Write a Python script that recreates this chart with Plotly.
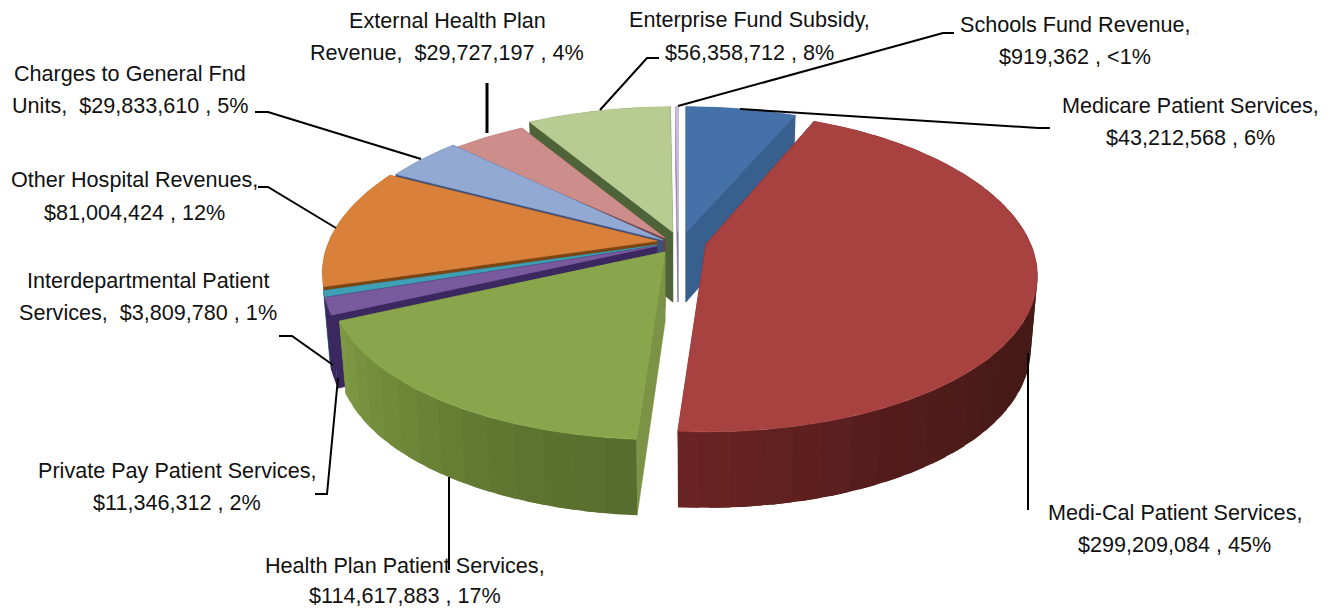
import math
import plotly.graph_objects as go

# ---- data ----
names = ["Medicare Patient Services", "Medi-Cal Patient Services", "Health Plan Patient Services",
         "Private Pay Patient Services", "Interdepartmental Patient Services", "Other Hospital Revenues",
         "Charges to General Fnd Units", "External Health Plan Revenue", "Enterprise Fund Subsidy",
         "Schools Fund Revenue"]
values = [43212568, 299209084, 114617883, 11346312, 3809780, 81004424, 29833610, 29727197, 56358712, 919362]
label_lines = [
    ["Medicare Patient Services,", "$43,212,568 , 6%"],
    ["Medi-Cal Patient Services,", "$299,209,084 , 45%"],
    ["Health Plan Patient Services,", "$114,617,883 , 17%"],
    ["Private Pay Patient Services,", "$11,346,312 , 2%"],
    ["Interdepartmental Patient", "Services,  $3,809,780 , 1%"],
    ["Other Hospital Revenues,", "$81,004,424 , 12%"],
    ["Charges to General Fnd", "Units,  $29,833,610 , 5%"],
    ["External Health Plan", "Revenue,  $29,727,197 , 4%"],
    ["Enterprise Fund Subsidy,", "$56,358,712 , 8%"],
    ["Schools Fund Revenue,", "$919,362 , <1%"],
]

# ---- styling / layout ----
label_pos = [(1190.5, 105, 137), (1174.5, 512, 544), (405, 565, 595), (177, 470, 502), (148, 280, 312),
             (134.5, 179, 212), (130, 73, 105), (447, 20, 52), (749, 19, 52), (1075, 24, 56)]
leaders = [
    [(740, 109), (1038, 128), (1050, 128)],
    [(1028, 353), (1028, 510)],
    [(449, 477), (449, 570)],
    [(338, 378), (327, 494), (315, 494)],
    [(333, 365), (292, 336), (279, 336)],
    [(336, 228), (268, 187), (258, 187)],
    [(421, 159), (268, 112), (255, 112)],
    [(487, 133), (487, 83)],
    [(600, 110), (647, 58), (659, 58)],
    [(678, 106), (943, 33), (954, 33)],
]
centers = [(686, 232, 1, .95), (706, 244, .99, 1), (665, 252, 1, 1), (657, 246, 1, 1), (657, 245, 1, 1),
           (657, 241, 1, 1), (663, 240, 1, 1), (665, 238, 1, .95), (672.7, 232, 1, .95), (678, 232, 1, .95)]
top_col = ["#4471a8", "#a74240", "#8aa64c", "#7a5a9e", "#3fa0b5", "#d9803a", "#92a9d3", "#cd8d8b", "#b8cb91", "#c9bfdc"]
wall_col = ["#37608f", "#5c1f1e", "#7c9345", "#3b2860", "#2a6f80", "#7a4510", "#3d4f7c", "#6d4240", "#4f6339", "#8c80a0"]
rim_stops = {
    1: [(22, "#451a17"), (120, "#451a17"), (150, "#521c1b"), (184, "#6a2423")],
    2: [(184, "#566c2c"), (205, "#5f7731"), (225, "#6f8839"), (246, "#7f9a46")],
}
draw_order = [8, 7, 6, 5, 4, 3, 2, 9, 0, 1]
A, B, KX, KY = 328, 155, .2, .175


def project(theta, cx, cy, sx, sy):
    u, v = math.sin(math.radians(theta)), -math.cos(math.radians(theta))
    return cx + sx * A * u / (1 - KX * v), cy + sy * B * v / (1 - KY * v), v


def lower(px, py, v, cx):
    return cx + (px - cx) * .98, py + 71 * (1 + .07 * v)


def hex_mix(c1, c2, t):
    a = [int(c1[i:i + 2], 16) for i in (1, 3, 5)]
    b = [int(c2[i:i + 2], 16) for i in (1, 3, 5)]
    return "#%02x%02x%02x" % tuple(round(p + (q - p) * t) for p, q in zip(a, b))


def rim_colour(i, theta):
    stops = rim_stops.get(i)
    if not stops:
        return wall_col[i]
    if theta <= stops[0][0]:
        return stops[0][1]
    for (t0, c0), (t1, c1) in zip(stops, stops[1:]):
        if theta <= t1:
            return hex_mix(c0, c1, (theta - t0) / (t1 - t0))
    return stops[-1][1]


fig = go.Figure()


def poly(xs, ys, colour, width=.6):
    fig.add_trace(go.Scatter(x=xs + xs[:1], y=ys + ys[:1], mode="lines", fill="toself", fillcolor=colour,
                             line=dict(color=colour, width=width), hoverinfo="skip", showlegend=False))


total = sum(values)
edges = [0]
for val in values:
    edges.append(edges[-1] + val / total * 360)

for i in draw_order:
    t0, t1 = edges[i], edges[i + 1]
    cx, cy, sx, sy = centers[i]
    n = max(2, int((t1 - t0) / 1.5))
    thetas = [t0 + (t1 - t0) * k / n for k in range(n + 1)]
    rim = [project(t, cx, cy, sx, sy) for t in thetas]
    low = [lower(x, y, v, cx) for x, y, v in rim]
    ax, ay = cx, cy + 70
    # radial cut walls
    poly([cx, rim[0][0], low[0][0], ax], [cy, rim[0][1], low[0][1], ay], wall_col[i])
    poly([cx, rim[-1][0], low[-1][0], ax], [cy, rim[-1][1], low[-1][1], ay], wall_col[i])
    # outer rim, shaded strip by strip; each strip runs on under the next one so no seam shows
    step = 3 if i in rim_stops else n
    for k in range(0, n, step):
        e = min(n, k + step)
        stop = min(n, e + 2)
        xs = [r[0] for r in rim[k:stop + 1]] + [l[0] for l in low[k:stop + 1]][::-1]
        ys = [r[1] for r in rim[k:stop + 1]] + [l[1] for l in low[k:stop + 1]][::-1]
        poly(xs, ys, rim_colour(i, (thetas[k] + thetas[e]) / 2), width=0)
    # top face
    poly([cx] + [r[0] for r in rim], [cy] + [r[1] for r in rim], top_col[i])

for i, pts in enumerate(leaders):
    fig.add_trace(go.Scatter(x=[p[0] for p in pts], y=[p[1] for p in pts], mode="lines",
                             line=dict(color="#000000", width=3 if i == 7 else 2),
                             hoverinfo="skip", showlegend=False))

annotations = []
for lines, (x, y1, y2) in zip(label_lines, label_pos):
    for line, y in zip(lines, (y1, y2)):
        annotations.append(dict(x=x, y=y, xref="x", yref="y", text=line, showarrow=False,
                                xanchor="center", yanchor="middle",
                                font=dict(family="Liberation Sans", size=21.6, color="#111111")))

fig.update_layout(
    width=1338, height=609, margin=dict(l=0, r=0, t=0, b=0),
    paper_bgcolor="white", plot_bgcolor="white",
    xaxis=dict(range=[0, 1338], visible=False, fixedrange=True),
    yaxis=dict(range=[609, 0], visible=False, fixedrange=True),
    annotations=annotations,
)
fig.write_html("out.html", config=dict(displayModeBar=False),
               post_script="document.body.style.margin='0';document.body.style.overflow='hidden';")
